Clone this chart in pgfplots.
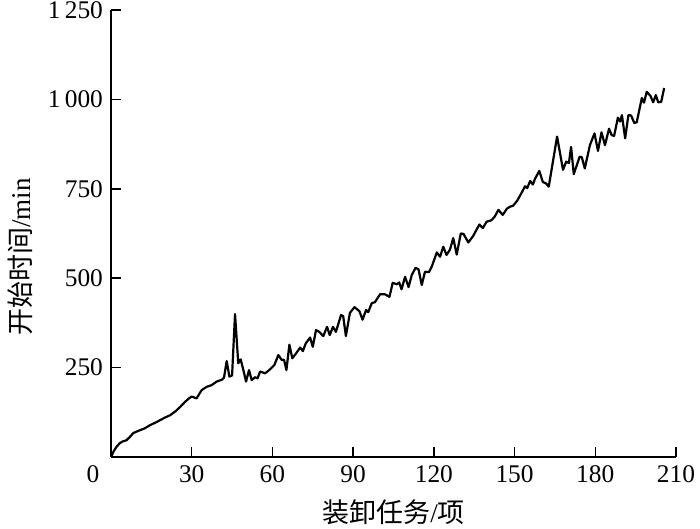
\documentclass[border=0pt]{standalone}
\usepackage{pgfplots}
\pgfplotsset{compat=1.18}
\usepackage{fontspec}
\setmainfont{Liberation Serif}
\newfontfamily\cjk{Noto Sans CJK SC}
\usetikzlibrary{calc}
\begin{document}
\begin{tikzpicture}
\begin{axis}[
  scale only axis=true,
  width=282.5pt, height=223.5pt,
  xmin=0, xmax=210, ymin=0, ymax=1250,
  axis x line*=bottom, axis y line*=left,
  axis line style={-, line width=0.75pt},
  tick align=inside,
  major tick length=5pt,
  tick style={line width=0.75pt, black},
  xtick={0,30,60,90,120,150,180,210},
  xticklabels={\hspace*{-18pt}0,30,60,90,120,150,180,210},
  ytick={250,500,750,1000,1250},
  scaled y ticks=false,
  /pgf/number format/assume math mode=true,
  /pgf/number format/1000 sep={\,},
  tick label style={font=\fontsize{12.7pt}{14pt}\selectfont},
  xticklabel style={yshift=-1pt},
  yticklabel style={xshift=-0.5pt},
  xlabel={{\cjk 装卸任务}/{\cjk 项}},
  ylabel={{\cjk 开始时间}/min},
  every axis x label/.style={at={(axis description cs:0.5,-0.123)},anchor=center,font=\fontsize{13.5pt}{15pt}\selectfont},
  every axis y label/.style={at={(axis description cs:-0.161,0.447)},rotate=90,anchor=center,font=\fontsize{13.5pt}{15pt}\selectfont},
]
\addplot[black, line width=1.1pt, line join=round] coordinates {
(0,0) (1,16) (2,28) (3.3,39) (4.5,44) (5.8,47) (7,56) (8.3,67) (9.5,71) (10.8,75)
(12.5,80) (14.5,89) (16.5,96) (18.5,104) (20,110) (22,117) (24,128) (25.7,140)
(27.5,154) (29,164) (30,169) (31.8,164) (33.7,187) (35.5,196) (37.4,201) (39.3,211)
(41.2,216) (42,222) (43,268) (44,225) (45,228) (46.1,400) (47.3,262) (48.2,273)
(49.2,243) (50.2,211) (51.3,243) (52.3,215) (53.5,223) (54.5,220) (55.4,239)
(57.3,234) (59.1,245) (60.7,257) (62.2,285) (63.5,271) (64.3,272) (65.2,243)
(66.3,314) (67.4,276) (69,292) (70.3,306) (71.3,296) (72.4,318) (74,334) (75,308)
(76.2,355) (77.4,350) (78.9,338) (80.3,364) (81.3,341) (82.5,364) (83.6,350)
(85.5,397) (86.3,394) (87.3,338) (88.8,403) (90.5,419) (92.3,408) (93.5,384)
(94.8,411) (95.6,405) (96.9,430) (98.1,433) (100,455) (101.8,455) (103.5,448)
(104.7,487) (106.2,483) (107.1,488) (108,469) (109.3,504) (110.6,475) (111.8,509)
(113.2,529) (114.3,525) (115.5,481) (116.7,518) (118.2,517) (119.2,532) (121.1,572)
(122.3,560) (123.5,588) (124.7,565) (126,580) (127.2,612) (128.5,566) (130,625)
(131,624) (132.8,600) (134.6,618) (136.9,650) (138.2,640) (139.6,658) (141.4,662)
(142.6,672) (144,691) (145.6,677) (147.1,694) (148.3,700) (149.5,703) (151,717)
(152.7,740) (153.9,757) (154.7,752) (155.8,772) (156.8,762) (157.6,778) (159.2,800)
(160.5,769) (161.7,765) (162.7,756) (165.8,896) (168,803) (169.2,826) (170.2,822)
(171,867) (172,791) (174.2,840) (175,838) (176.1,807) (178,872) (179.7,905)
(181,856) (182.3,908) (183.6,872) (185.1,918) (186.1,900) (187,898) (188.4,949)
(189.2,938) (189.9,956) (191.1,891) (192.3,956) (193.3,955) (194.5,934) (195.4,936)
(197.3,1004) (198.1,991) (199.1,1021) (200.5,1010) (201.5,992) (202.5,1012)
(203.4,992) (204.5,993) (205.6,1032)
};
\end{axis}
\pgfresetboundingbox
\path ($(current axis.south west)+(-55.5pt,-36pt)$) rectangle ($(current axis.north east)+(12pt,5pt)$);
\end{tikzpicture}
\end{document}
